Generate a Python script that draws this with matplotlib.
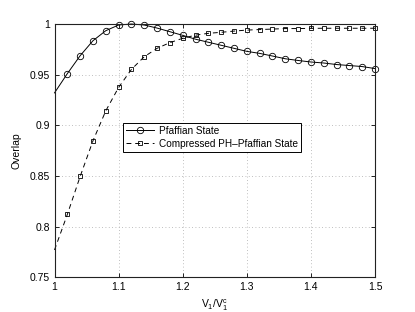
import numpy as np
import matplotlib.pyplot as plt

plt.rcParams['font.family'] = ['Liberation Sans', 'DejaVu Sans']
plt.rcParams['mathtext.fontset'] = 'custom'
plt.rcParams['mathtext.rm'] = 'Liberation Sans'
plt.rcParams['mathtext.it'] = 'Liberation Sans'

# data
x = [1.00, 1.02, 1.04, 1.06, 1.08, 1.10, 1.12, 1.14, 1.16, 1.18, 1.20, 1.22, 1.24,
     1.26, 1.28, 1.30, 1.32, 1.34, 1.36, 1.38, 1.40, 1.42, 1.44, 1.46, 1.48, 1.50]
pfaffian = [0.932, 0.951, 0.9687, 0.9835, 0.9934, 0.999, 1.000, 0.999, 0.996, 0.9924,
            0.9888, 0.985, 0.982, 0.979, 0.976, 0.973, 0.971, 0.9684, 0.9657, 0.964,
            0.9625, 0.9615, 0.960, 0.959, 0.958, 0.956]
compressed = [0.777, 0.812, 0.8495, 0.8847, 0.9143, 0.9374, 0.9552, 0.9677, 0.976, 0.9816,
              0.9859, 0.989, 0.9908, 0.9918, 0.993, 0.994, 0.9945, 0.995, 0.9955, 0.9955,
              0.9957, 0.9958, 0.9958, 0.9958, 0.9958, 0.9958]

fig = plt.figure(figsize=(4.15, 3.12), dpi=100)
ax = fig.add_axes([54.5 / 415, 1 - 277.3 / 312, 320.5 / 415, 253.3 / 312])

ax.plot(x, pfaffian, color='black', lw=0.7, marker='o', ms=4.6, mfc='none',
        mew=0.6, markevery=slice(1, None), label='Pfaffian State', clip_on=False)
ax.plot(x, compressed, color='black', lw=0.7, ls=(0, (5, 4)), marker='s', ms=3.4,
        mfc='none', mew=0.6, markevery=slice(1, None),
        label='Compressed PH\u2013Pfaffian State', clip_on=False)

ax.set_xlim(1, 1.5)
ax.set_ylim(0.75, 1)
ax.set_xticks([1, 1.1, 1.2, 1.3, 1.4, 1.5])
ax.set_xticklabels(['1', '1.1', '1.2', '1.3', '1.4', '1.5'])
ax.set_yticks([0.75, 0.8, 0.85, 0.9, 0.95, 1])
ax.set_yticklabels(['0.75', '0.8', '0.85', '0.9', '0.95', '1'])
ax.grid(True, ls=(0, (1, 3)), color='#aaaaaa', lw=0.6)
ax.tick_params(direction='in', top=True, right=True, labelsize=7.5, length=3, width=0.6)
for s in ax.spines.values():
    s.set_linewidth(0.8)
    s.set_color('#222222')

ax.set_xlabel('$V_1/V_1^c$', fontsize=7.5, labelpad=4)
ax.set_ylabel('Overlap', fontsize=7.5, labelpad=6)

leg = ax.legend(loc='upper left', bbox_to_anchor=(0.215, 0.61), fontsize=7.2,
                fancybox=False, framealpha=1, edgecolor='black', handlelength=2.8,
                borderpad=0.3, labelspacing=0.3, handletextpad=0.5, borderaxespad=0)
leg.get_frame().set_linewidth(0.7)

fig.savefig('out.png', dpi=100)
